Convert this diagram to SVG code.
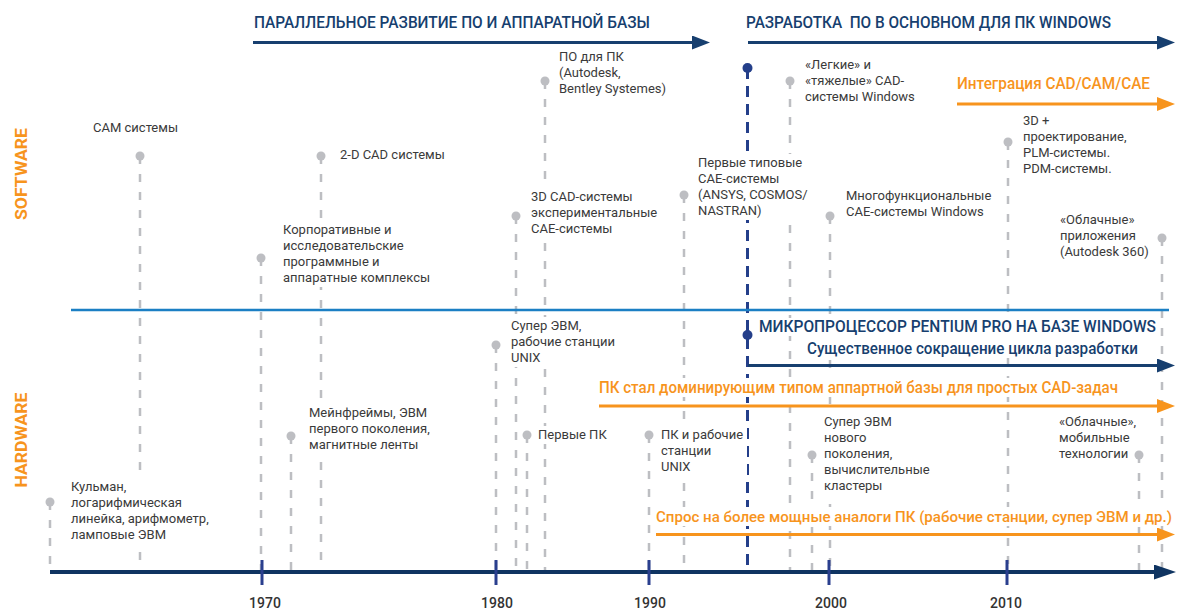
<svg xmlns="http://www.w3.org/2000/svg" width="1180" height="610" viewBox="0 0 1180 610">
<style>
  text { font-family: Roboto, "Liberation Sans", "Noto Sans", sans-serif; }
  .lbl { font-size: 13px; fill: #3a3a3a; }
  .hdr { font-size: 16px; font-weight: 500; fill: #173f6f; }
  .org { font-size: 16px; font-weight: 500; fill: #f7941d; }
  .side { font-size: 16px; font-weight: 700; fill: #f7941d; }
  .yr { font-size: 14px; font-weight: 500; fill: #333333; text-anchor: middle; }
  .dash { stroke: #bdbec2; stroke-width: 2.5; stroke-dasharray: 8 10; fill: none; }
  .dashB { stroke: #243f8a; stroke-width: 3; stroke-dasharray: 11 7; fill: none; }
  .dot { fill: #bdbec2; }
  .dotB { fill: #243f8a; }
  .bg { fill: #ffffff; }
  .navy { stroke: #173f6f; stroke-width: 3; fill: none; }
  .orange { stroke: #f7941d; stroke-width: 3; fill: none; }
  .tick { stroke: #2a3f8e; stroke-width: 3; }
</style>
<defs>
  <marker id="ahNavy" markerUnits="userSpaceOnUse" markerWidth="18" markerHeight="14" refX="9" refY="7" orient="auto">
    <path d="M0,0 L18,7 L0,14 z" fill="#173f6f"/>
  </marker>
  <marker id="ahOrange" markerUnits="userSpaceOnUse" markerWidth="18" markerHeight="14" refX="9" refY="7" orient="auto">
    <path d="M0,0 L18,7 L0,14 z" fill="#f7941d"/>
  </marker>
  <marker id="ahAxis" markerUnits="userSpaceOnUse" markerWidth="22" markerHeight="15" refX="11" refY="7.5" orient="auto">
    <path d="M0,0 L22,7.5 L0,15 z" fill="#0f3461"/>
  </marker>
</defs>
<rect width="1180" height="610" fill="#ffffff"/>

<g id="connectors">
  <line class="dash" x1="140" y1="156" x2="140" y2="572"/>
  <line class="dash" x1="321" y1="156" x2="321" y2="572"/>
  <line class="dash" x1="261" y1="258" x2="261" y2="572"/>
  <line class="dash" x1="545" y1="81" x2="545" y2="572"/>
  <line class="dash" x1="516" y1="216" x2="516" y2="572"/>
  <line class="dash" x1="684" y1="195" x2="684" y2="572"/>
  <line class="dash" x1="790" y1="81" x2="790" y2="572"/>
  <line class="dash" x1="830" y1="216" x2="830" y2="572"/>
  <line class="dash" x1="1008" y1="142" x2="1008" y2="572"/>
  <line class="dash" x1="1162" y1="238" x2="1162" y2="572"/>
  <line class="dash" x1="50" y1="502" x2="50" y2="572"/>
  <line class="dash" x1="291" y1="436" x2="291" y2="572"/>
  <line class="dash" x1="496" y1="345" x2="496" y2="572"/>
  <line class="dash" x1="527" y1="435" x2="527" y2="572"/>
  <line class="dash" x1="649" y1="435" x2="649" y2="572"/>
  <line class="dash" x1="812" y1="455" x2="812" y2="572"/>
  <line class="dash" x1="1139" y1="455" x2="1139" y2="572"/>
  <line class="dashB" x1="747.5" y1="68" x2="747.5" y2="572"/>
</g>

<line id="separator" x1="71" y1="310" x2="1169" y2="310" stroke="#1b7fc4" stroke-width="2.5"/>

<g id="side-labels">
  <text class="side" transform="translate(27,174) rotate(-90)" text-anchor="middle" textLength="92" lengthAdjust="spacingAndGlyphs">SOFTWARE</text>
  <text class="side" transform="translate(27,440) rotate(-90)" text-anchor="middle" textLength="95" lengthAdjust="spacingAndGlyphs">HARDWARE</text>
</g>

<g id="phase-parallel">
  <text class="hdr" x="254" y="28" textLength="396" lengthAdjust="spacingAndGlyphs">ПАРАЛЛЕЛЬНОЕ РАЗВИТИЕ ПО И АППАРАТНОЙ БАЗЫ</text>
  <line class="navy" x1="253" y1="42.5" x2="701" y2="42.5" marker-end="url(#ahNavy)"/>
</g>
<g id="phase-windows">
  <text class="hdr" x="746" y="28" textLength="365" lengthAdjust="spacingAndGlyphs" xml:space="preserve">РАЗРАБОТКА  ПО В ОСНОВНОМ ДЛЯ ПК WINDOWS</text>
  <line class="navy" x1="748" y1="42.5" x2="1166" y2="42.5" marker-end="url(#ahNavy)"/>
</g>
<g id="phase-integration">
  <text class="org" x="957" y="89" textLength="193" lengthAdjust="spacingAndGlyphs">Интеграция CAD/CAM/CAE</text>
  <line class="orange" x1="957" y1="104" x2="1166" y2="104" marker-end="url(#ahOrange)"/>
</g>

<g id="node-cam">
  <circle class="dot" cx="140" cy="156" r="4.5"/>
  <text class="lbl" x="93" y="132">САМ системы</text>
</g>
<g id="node-2dcad">
  <circle class="dot" cx="321" cy="156" r="4.5"/>
  <text class="lbl" x="340" y="159">2-D CAD системы</text>
</g>
<g id="node-corp">
  <rect class="bg" x="280" y="221" width="152" height="66"/>
  <circle class="dot" cx="261" cy="258" r="4.5"/>
  <text class="lbl" x="283" y="234">Корпоративные и</text>
  <text class="lbl" x="283" y="250">исследовательские</text>
  <text class="lbl" x="283" y="266">программные и</text>
  <text class="lbl" x="283" y="282">аппаратные комплексы</text>
</g>
<g id="node-pcsoft">
  <circle class="dot" cx="545" cy="81" r="4.5"/>
  <text class="lbl" x="559" y="61">ПО для ПК</text>
  <text class="lbl" x="559" y="77">(Autodesk,</text>
  <text class="lbl" x="559" y="93">Bentley Systemes)</text>
</g>
<g id="node-3dcad">
  <rect class="bg" x="528" y="188" width="130" height="50"/>
  <circle class="dot" cx="516" cy="216" r="4.5"/>
  <text class="lbl" x="531" y="201">3D CAD-системы</text>
  <text class="lbl" x="531" y="217">экспериментальные</text>
  <text class="lbl" x="531" y="233">CAE-системы</text>
</g>
<g id="node-cae">
  <rect class="bg" x="695" y="154" width="115" height="66"/>
  <circle class="dot" cx="684" cy="195" r="4.5"/>
  <text class="lbl" x="698" y="167">Первые типовые</text>
  <text class="lbl" x="698" y="183">CAE-системы</text>
  <text class="lbl" x="698" y="199">(ANSYS, COSMOS/</text>
  <text class="lbl" x="698" y="215">NASTRAN)</text>
</g>
<g id="node-pentium-soft">
  <circle class="dotB" cx="747.5" cy="68" r="5"/>
</g>
<g id="node-light-heavy">
  <circle class="dot" cx="790" cy="81" r="4.5"/>
  <text class="lbl" x="805" y="69">«Легкие» и</text>
  <text class="lbl" x="805" y="85">«тяжелые» CAD-</text>
  <text class="lbl" x="805" y="101">системы Windows</text>
</g>
<g id="node-multi">
  <circle class="dot" cx="830" cy="216" r="4.5"/>
  <text class="lbl" x="846" y="200">Многофункциональные</text>
  <text class="lbl" x="846" y="216">CAE-системы Windows</text>
</g>
<g id="node-plm">
  <circle class="dot" cx="1008" cy="142" r="4.5"/>
  <text class="lbl" x="1023" y="125">3D +</text>
  <text class="lbl" x="1023" y="141">проектирование,</text>
  <text class="lbl" x="1023" y="157">PLM-системы.</text>
  <text class="lbl" x="1023" y="173">PDM-системы.</text>
</g>
<g id="node-cloud-apps">
  <circle class="dot" cx="1162" cy="238" r="4.5"/>
  <text class="lbl" x="1060" y="224">«Облачные»</text>
  <text class="lbl" x="1060" y="240">приложения</text>
  <text class="lbl" x="1060" y="256">(Autodesk 360)</text>
</g>

<g id="node-pentium-hw">
  <rect class="bg" x="757" y="318" width="402" height="18"/>
  <circle class="dotB" cx="747.5" cy="335" r="5"/>
  <text class="hdr" x="759" y="332" textLength="397" lengthAdjust="spacingAndGlyphs">МИКРОПРОЦЕССОР PENTIUM PRO НА БАЗЕ WINDOWS</text>
</g>
<g id="phase-cycle">
  <rect class="bg" x="805" y="340" width="336" height="18"/>
  <text class="hdr" x="807" y="354" textLength="331" lengthAdjust="spacingAndGlyphs">Существенное сокращение цикла разработки</text>
  <line class="navy" x1="748" y1="365.5" x2="1166" y2="365.5" marker-end="url(#ahNavy)"/>
</g>
<g id="phase-pc-dominant">
  <rect class="bg" x="597" y="378" width="524" height="19"/>
  <text class="org" x="599" y="393" textLength="519" lengthAdjust="spacingAndGlyphs">ПК стал доминирующим типом аппартной базы для простых CAD-задач</text>
  <line class="orange" x1="599" y1="406" x2="1166" y2="406" marker-end="url(#ahOrange)"/>
</g>
<g id="phase-demand">
  <rect class="bg" x="654" y="507" width="524" height="19"/>
  <text class="org" x="656" y="522" style="font-size:15px" textLength="516" lengthAdjust="spacingAndGlyphs">Спрос на более мощные аналоги ПК (рабочие станции, супер ЭВМ и др.)</text>
  <line class="orange" x1="656" y1="534.5" x2="1166" y2="534.5" marker-end="url(#ahOrange)"/>
</g>

<g id="node-kulman">
  <rect class="bg" x="68" y="478" width="145" height="66"/>
  <circle class="dot" cx="50" cy="502" r="4.5"/>
  <text class="lbl" x="71" y="491">Кульман,</text>
  <text class="lbl" x="71" y="507">логарифмическая</text>
  <text class="lbl" x="71" y="523">линейка, арифмометр,</text>
  <text class="lbl" x="71" y="539">ламповые ЭВМ</text>
</g>
<g id="node-mainframe">
  <rect class="bg" x="306" y="404" width="127" height="50"/>
  <circle class="dot" cx="291" cy="436" r="4.5"/>
  <text class="lbl" x="309" y="417">Мейнфреймы, ЭВМ</text>
  <text class="lbl" x="309" y="433">первого поколения,</text>
  <text class="lbl" x="309" y="449">магнитные ленты</text>
</g>
<g id="node-super-unix">
  <rect class="bg" x="508" y="317" width="111" height="50"/>
  <circle class="dot" cx="496" cy="345" r="4.5"/>
  <text class="lbl" x="511" y="330">Супер ЭВМ,</text>
  <text class="lbl" x="511" y="346">рабочие станции</text>
  <text class="lbl" x="511" y="362">UNIX</text>
</g>
<g id="node-first-pc">
  <rect class="bg" x="535" y="426" width="75" height="18"/>
  <circle class="dot" cx="527" cy="435" r="4.5"/>
  <text class="lbl" x="538" y="439">Первые ПК</text>
</g>
<g id="node-pc-unix">
  <rect class="bg" x="658" y="426" width="89" height="50"/>
  <circle class="dot" cx="649" cy="435" r="4.5"/>
  <text class="lbl" x="661" y="439">ПК и рабочие</text>
  <text class="lbl" x="661" y="455">станции</text>
  <text class="lbl" x="661" y="471">UNIX</text>
</g>
<g id="node-clusters">
  <rect class="bg" x="821" y="413" width="111" height="81"/>
  <circle class="dot" cx="812" cy="455" r="4.5"/>
  <text class="lbl" x="824" y="426">Супер ЭВМ</text>
  <text class="lbl" x="824" y="442">нового</text>
  <text class="lbl" x="824" y="458">поколения,</text>
  <text class="lbl" x="824" y="474">вычислительные</text>
  <text class="lbl" x="824" y="490">кластеры</text>
</g>
<g id="node-cloud-mobile">
  <circle class="dot" cx="1139" cy="455" r="4.5"/>
  <text class="lbl" x="1059" y="426">«Облачные»,</text>
  <text class="lbl" x="1059" y="442">мобильные</text>
  <text class="lbl" x="1059" y="458">технологии</text>
</g>

<g id="axis">
  <line x1="50" y1="572" x2="1165" y2="572" stroke="#0f3461" stroke-width="4" marker-end="url(#ahAxis)"/>
  <line class="tick" x1="262" y1="560" x2="262" y2="585"/>
  <line class="tick" x1="496" y1="560" x2="496" y2="585"/>
  <line class="tick" x1="649" y1="560" x2="649" y2="585"/>
  <line class="tick" x1="829" y1="560" x2="829" y2="585"/>
  <line class="tick" x1="1007" y1="560" x2="1007" y2="585"/>
  <text class="yr" x="265" y="608">1970</text>
  <text class="yr" x="497" y="608">1980</text>
  <text class="yr" x="650" y="608">1990</text>
  <text class="yr" x="831" y="608">2000</text>
  <text class="yr" x="1006" y="608">2010</text>
</g>
</svg>
